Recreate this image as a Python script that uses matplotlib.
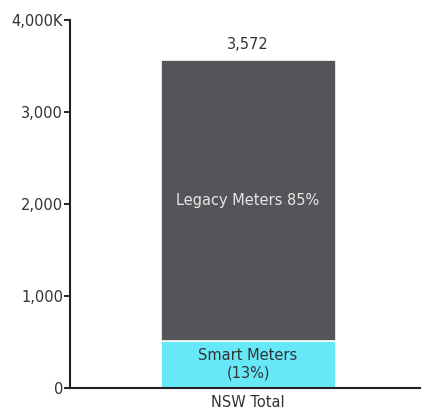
import matplotlib
matplotlib.use("Agg")
import matplotlib.pyplot as plt
from matplotlib.ticker import FuncFormatter

# Meter counts (thousands) for NSW
categories = ["NSW Total"]
smart_meters = [510]
legacy_meters = [3062]
smart_label = "Smart Meters\n(13%)"
legacy_label = "Legacy Meters 85%"
y_ticks = [0, 1000, 2000, 3000, 4000]

fig = plt.figure(figsize=(4.22, 4.12), dpi=100)
ax = fig.add_axes([0.166, 0.058, 0.829, 0.893])

x = list(range(len(categories)))
bar_w = 0.5
ax.bar(x, smart_meters, width=bar_w, color="#66E8F8", edgecolor="white", linewidth=1.2)
ax.bar(x, legacy_meters, bottom=smart_meters, width=bar_w, color="#545558",
       edgecolor="white", linewidth=1.2)

fs = 10.5
for i in x:
    total = smart_meters[i] + legacy_meters[i]
    ax.text(i, total + 80, f"{total:,}", ha="center", va="bottom", fontsize=fs, color="#333333")
    ax.text(i, smart_meters[i] / 2, smart_label, ha="center", va="center",
            fontsize=fs, color="#333333", linespacing=1.2)
    ax.text(i, smart_meters[i] + legacy_meters[i] / 2, legacy_label, ha="center",
            va="center", fontsize=fs, color="#E6E6E6")

ax.set_xlim(-0.509, 0.491)
ax.set_ylim(0, 4000)
ax.set_yticks(y_ticks)
ax.yaxis.set_major_formatter(FuncFormatter(
    lambda v, p: f"{int(v):,}K" if v == 4000 else f"{int(v):,}"))
ax.set_xticks(x)
ax.set_xticklabels(categories)
ax.tick_params(axis="x", length=0, pad=5, labelsize=fs, colors="#333333")
ax.tick_params(axis="y", length=4, width=1.2, pad=1, labelsize=fs, labelcolor="#333333")

for s in ["top", "right"]:
    ax.spines[s].set_visible(False)
for s in ["left", "bottom"]:
    ax.spines[s].set_linewidth(1.5)
    ax.spines[s].set_color("#222222")

fig.savefig("out.png", dpi=100)
